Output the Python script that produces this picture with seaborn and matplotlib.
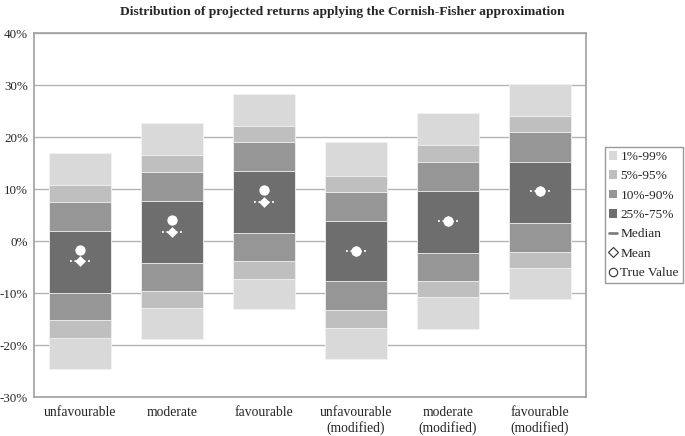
import numpy as np
import pandas as pd
import matplotlib
matplotlib.use('Agg')
import matplotlib.pyplot as plt
from matplotlib.patches import Patch
from matplotlib.lines import Line2D
from matplotlib.ticker import FuncFormatter
import seaborn as sns

# Percentile bands of the projected returns (in %)
categories = ['unfavourable', 'moderate', 'favourable',
              'unfavourable\n(modified)', 'moderate\n(modified)', 'favourable\n(modified)']
p01 = [-24.6, -18.8, -13.1, -22.6, -16.85, -11.2]
p05 = [-18.65, -12.9, -7.2, -16.6, -10.8, -5.25]
p10 = [-15.25, -9.6, -3.9, -13.3, -7.6, -2.0]
p25 = [-9.9, -4.15, 1.6, -7.75, -2.2, 3.5]
p75 = [2.0, 7.7, 13.4, 3.85, 9.7, 15.3]
p90 = [7.5, 13.3, 19.0, 9.4, 15.2, 20.9]
p95 = [10.8, 16.5, 22.1, 12.6, 18.4, 24.1]
p99 = [16.9, 22.7, 28.3, 19.0, 24.6, 30.3]
median = [-3.9, 1.75, 7.5, -1.8, 3.85, 9.6]
mean = [-3.9, 1.75, 7.5, -1.8, 3.85, 9.6]
true_value = [-1.65, 4.0, 9.75, -1.8, 3.85, 9.6]

band_labels = ['1%-99%', '5%-95%', '10%-90%', '25%-75%']
band_colors = ['#d9d9d9', '#bfbfbf', '#969696', '#6e6e6e']
bands = [(p01, p99), (p05, p95), (p10, p90), (p25, p75)]

sns.set_theme(style='white')
plt.rcParams['font.family'] = ['Liberation Serif', 'DejaVu Serif']
plt.rcParams['axes.unicode_minus'] = False

fig, ax = plt.subplots(figsize=(6.85, 4.36), dpi=100)
fig.subplots_adjust(left=0.050, right=0.855, top=0.924, bottom=0.089)

x = np.arange(len(categories))
width = 0.67
for (lo, hi), color in zip(bands, band_colors):
    lo = np.array(lo)
    hi = np.array(hi)
    ax.bar(x, hi - lo, bottom=lo, width=width, color=color,
           edgecolor='#f2f2f2', linewidth=0.6, zorder=2)

# median as a short dotted white line
ax.hlines(median, x - 0.11, x + 0.11, colors='white', linestyles=(0, (1, 1.5)),
          linewidth=1.3, zorder=3)

pts = pd.DataFrame({'x': x, 'mean': mean, 'true': true_value})
sns.scatterplot(data=pts, x='x', y='mean', marker='D', s=30, color='white',
                edgecolor='white', linewidth=0, ax=ax, zorder=4)
sns.scatterplot(data=pts, x='x', y='true', marker='o', s=55, color='white',
                edgecolor='white', linewidth=0, ax=ax, zorder=5)

ax.set_xlim(-0.5, len(categories) - 0.5)
ax.set_ylim(-30, 40)
ax.set_yticks(np.arange(-30, 41, 10))
ax.yaxis.set_major_formatter(FuncFormatter(lambda v, p: f'{v:.0f}%'))
ax.set_xticks(x)
ax.set_xticklabels(categories, fontsize=9.8)
ax.tick_params(axis='y', labelsize=9.4, length=3, color='#a0a0a0', pad=1.5)
ax.tick_params(axis='x', length=0, pad=6)
ax.set_xlabel('')
ax.set_ylabel('')
ax.yaxis.grid(True, color='#b3b3b3', linewidth=1.0, zorder=0)
ax.set_axisbelow(True)
for side in ['left', 'bottom', 'top', 'right']:
    ax.spines[side].set_color('#a0a0a0')
    ax.spines[side].set_linewidth(1.2)
    ax.spines[side].set_visible(True)

fig.suptitle('Distribution of projected returns applying the Cornish-Fisher approximation',
             x=0.5, y=0.987, fontsize=9.7, fontweight='bold', va='top')

handles = [Patch(facecolor=c, edgecolor='none') for c in band_colors]
handles += [
    Line2D([], [], color='#808080', linewidth=2),
    Line2D([], [], marker='D', linestyle='none', markerfacecolor='white',
           markeredgecolor='#303030', markersize=5, markeredgewidth=0.8),
    Line2D([], [], marker='o', linestyle='none', markerfacecolor='white',
           markeredgecolor='#303030', markersize=6, markeredgewidth=0.8),
]
labels = band_labels + ['Median', 'Mean', 'True Value']
leg = fig.legend(handles, labels, loc='upper left', bbox_to_anchor=(605 / 685, 1 - 147 / 436),
                 fontsize=9.6, frameon=True, fancybox=False, handlelength=0.6,
                 handleheight=0.6, handletextpad=0.25, labelspacing=0.55,
                 borderpad=0.3, borderaxespad=0)
leg.get_frame().set_edgecolor('#808080')
leg.get_frame().set_linewidth(1.0)

fig.savefig('out.png', dpi=100)
